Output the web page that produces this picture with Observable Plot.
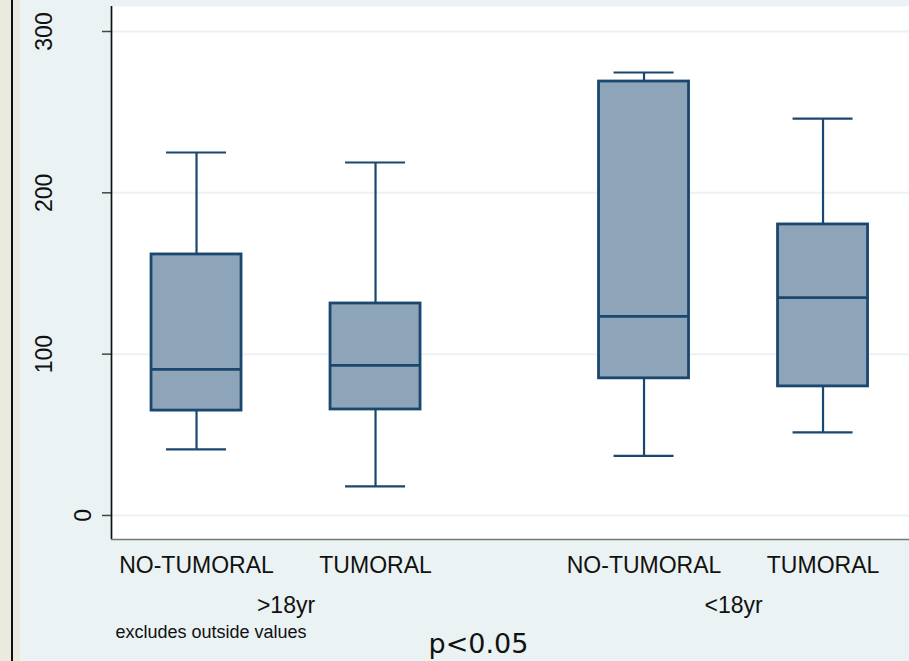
<!DOCTYPE html>
<html>
<head>
<meta charset="utf-8">
<script src="https://cdn.jsdelivr.net/npm/d3@7"></script>
<script src="https://cdn.jsdelivr.net/npm/@observablehq/plot@0.6"></script>
<style>
  html, body { margin: 0; padding: 0; background: #eaf2f3; }
  #wrap { position: relative; width: 909px; height: 661px; overflow: hidden; background: #eaf2f3; }
  #strip { position: absolute; left: 0; top: 0; width: 20px; height: 661px; background: #ece9df; }
  #stripLine { position: absolute; left: 11px; top: 0; width: 2px; height: 661px; background: #111; }
  #chart svg { display: block; }
</style>
</head>
<body>
<div id="wrap">
  <div id="chart"></div>
  <div id="strip"><div id="stripLine"></div></div>
</div>
<script>
// ---- data ----
const groups = [">18yr", "<18yr"];
const categories = ["NO-TUMORAL", "TUMORAL"];
const whiskerLow  = [41, 18, 37, 51.5];
const q1          = [65, 65.7, 85, 80];
const median      = [90.5, 93, 123.4, 135];
const q3          = [161.8, 131.4, 269, 180.4];
const whiskerHigh = [225, 218.8, 274.6, 246];
const yTicks = [0, 100, 200, 300];
const noteText = "excludes outside values";
const pText = "p<0.05";

// build table: position within over() groups, with a gap between groups
const boxes = [];
groups.forEach((g, gi) => categories.forEach((c, ci) => {
  const i = gi * categories.length + ci;
  boxes.push({group: g, cat: c, pos: gi * 2.5 + ci + 1,
    lo: whiskerLow[i], q1: q1[i], med: median[i], q3: q3[i], hi: whiskerHigh[i]});
}));
const groupLabels = groups.map((g, gi) => ({group: g, pos: gi * 2.5 + 1.5}));

const bw = 0.2514;   // half box width (x units)
const cw = 0.1676;   // half cap width
const xDomain = [0.525, 4.983];
const yDomain = [-14.9, 315.5];
const navy = "#1a476f";

const chart = Plot.plot({
  width: 909, height: 661,
  marginLeft: 111, marginRight: 0, marginTop: 6, marginBottom: 122,
  style: {background: "transparent", fontFamily: "Liberation Sans, Arial, sans-serif", overflow: "visible"},
  x: {type: "linear", domain: xDomain, axis: null},
  y: {domain: yDomain, axis: null},
  marks: [
    Plot.frame({fill: "white", stroke: null}),
    Plot.ruleY(yTicks, {stroke: "#eaf2f3", strokeWidth: 2}),
    Plot.axisY({ticks: yTicks, tickSize: 9, tickFormat: () => "", stroke: "#444", strokeWidth: 1.5}),
    Plot.text(yTicks.filter(d => d !== 0), {y: d => d, text: d => String(d), frameAnchor: "left", rotate: -90,
      dx: -66.5, fontSize: 23, fill: "#111", textAnchor: "middle", lineAnchor: "middle"}),
    Plot.text(yTicks.filter(d => d === 0), {y: d => d, text: d => String(d), frameAnchor: "left", rotate: -90,
      dx: -27.5, fontSize: 23, fill: "#111", textAnchor: "middle", lineAnchor: "middle"}),
    Plot.ruleX([xDomain[0]], {stroke: "#111", strokeWidth: 1.7}),
    Plot.ruleY([yDomain[0]], {stroke: "#777", strokeWidth: 1.5}),
    // whiskers
    Plot.ruleX(boxes, {x: "pos", y1: "q3", y2: "hi", stroke: navy, strokeWidth: 2.2}),
    Plot.ruleX(boxes, {x: "pos", y1: "lo", y2: "q1", stroke: navy, strokeWidth: 2.2}),
    Plot.ruleY(boxes, {y: "hi", x1: d => d.pos - cw, x2: d => d.pos + cw, stroke: navy, strokeWidth: 2.2}),
    Plot.ruleY(boxes, {y: "lo", x1: d => d.pos - cw, x2: d => d.pos + cw, stroke: navy, strokeWidth: 2.2}),
    // boxes
    Plot.rect(boxes, {x1: d => d.pos - bw, x2: d => d.pos + bw, y1: "q1", y2: "q3",
      fill: "#8ea4b8", stroke: navy, strokeWidth: 2.8}),
    Plot.ruleY(boxes, {y: "med", x1: d => d.pos - bw, x2: d => d.pos + bw, stroke: navy, strokeWidth: 2.8}),
    // category labels
    Plot.text(boxes, {x: "pos", text: "cat", frameAnchor: "bottom", dy: 33, lineAnchor: "bottom",
      fontSize: 23, fill: "#111"}),
    Plot.text(groupLabels, {x: "pos", text: "group", frameAnchor: "bottom", dy: 73, lineAnchor: "bottom",
      fontSize: 23, fill: "#111"}),
    Plot.text([noteText], {text: d => d, frameAnchor: "bottom-left", dx: 4, dy: 98, lineAnchor: "bottom",
      textAnchor: "start", fontSize: 18, fill: "#111"}),
    Plot.text([pText], {text: d => d, frameAnchor: "bottom-left", dx: 367, dy: 113, lineAnchor: "bottom",
      textAnchor: "middle", fontSize: 27, fill: "#111", fontFamily: "DejaVu Sans"})
  ]
});
document.getElementById("chart").appendChild(chart);
</script>
</body>
</html>
